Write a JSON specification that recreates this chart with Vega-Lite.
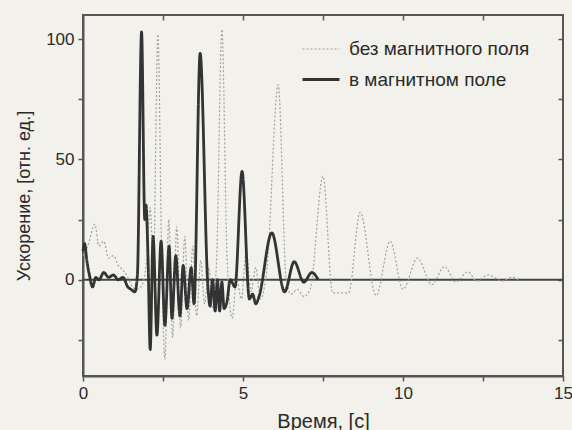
{
  "$schema": "https://vega.github.io/schema/vega-lite/v6.json",
  "width": 480,
  "height": 361,
  "autosize": {"type": "none"},
  "padding": {"left": 83, "top": 15, "right": 9, "bottom": 54},
  "background": "#f2f1ec",
  "config": {
    "font": "Liberation Sans",
    "view": {"stroke": "#555", "strokeWidth": 2},
    "axis": {"grid": false, "domainColor": "#555", "domainWidth": 2, "tickColor": "#555", "tickWidth": 1.5, "labelColor": "#2a2a2a", "titleColor": "#2a2a2a", "labelFontSize": 17, "titleFontSize": 18, "titleFontWeight": "normal"}
  },
  "datasets": {
    "curves": [
      {"s": "без магнитного поля", "t": 0, "a": 10},
      {"s": "без магнитного поля", "t": 0.15, "a": 14},
      {"s": "без магнитного поля", "t": 0.37, "a": 23},
      {"s": "без магнитного поля", "t": 0.5, "a": 14},
      {"s": "без магнитного поля", "t": 0.65, "a": 16},
      {"s": "без магнитного поля", "t": 0.8, "a": 9},
      {"s": "без магнитного поля", "t": 0.95, "a": 10},
      {"s": "без магнитного поля", "t": 1.1, "a": 6},
      {"s": "без магнитного поля", "t": 1.25, "a": 4},
      {"s": "без магнитного поля", "t": 1.4, "a": 1},
      {"s": "без магнитного поля", "t": 1.55, "a": -3},
      {"s": "без магнитного поля", "t": 1.7, "a": -4},
      {"s": "без магнитного поля", "t": 1.85, "a": -2},
      {"s": "без магнитного поля", "t": 2.0, "a": 10},
      {"s": "без магнитного поля", "t": 2.1, "a": 30},
      {"s": "без магнитного поля", "t": 2.2, "a": 5},
      {"s": "без магнитного поля", "t": 2.34, "a": 102},
      {"s": "без магнитного поля", "t": 2.47, "a": 0},
      {"s": "без магнитного поля", "t": 2.56, "a": -33},
      {"s": "без магнитного поля", "t": 2.68, "a": 25},
      {"s": "без магнитного поля", "t": 2.8, "a": -24},
      {"s": "без магнитного поля", "t": 2.93, "a": 22},
      {"s": "без магнитного поля", "t": 3.05, "a": -20},
      {"s": "без магнитного поля", "t": 3.18, "a": 18},
      {"s": "без магнитного поля", "t": 3.3, "a": -17},
      {"s": "без магнитного поля", "t": 3.43, "a": 14},
      {"s": "без магнитного поля", "t": 3.55, "a": -15},
      {"s": "без магнитного поля", "t": 3.68, "a": 8},
      {"s": "без магнитного поля", "t": 3.8, "a": -10},
      {"s": "без магнитного поля", "t": 3.93, "a": 5},
      {"s": "без магнитного поля", "t": 4.05, "a": -12},
      {"s": "без магнитного поля", "t": 4.18, "a": 10},
      {"s": "без магнитного поля", "t": 4.34, "a": 104},
      {"s": "без магнитного поля", "t": 4.5, "a": 10},
      {"s": "без магнитного поля", "t": 4.66, "a": -16},
      {"s": "без магнитного поля", "t": 4.8, "a": 0},
      {"s": "без магнитного поля", "t": 4.95, "a": -8},
      {"s": "без магнитного поля", "t": 5.1, "a": 12},
      {"s": "без магнитного поля", "t": 5.25, "a": -5},
      {"s": "без магнитного поля", "t": 5.4, "a": 5},
      {"s": "без магнитного поля", "t": 5.55, "a": -8},
      {"s": "без магнитного поля", "t": 5.75, "a": 5},
      {"s": "без магнитного поля", "t": 6.1, "a": 81},
      {"s": "без магнитного поля", "t": 6.35, "a": 0},
      {"s": "без магнитного поля", "t": 6.5, "a": -6},
      {"s": "без магнитного поля", "t": 6.7, "a": -4},
      {"s": "без магнитного поля", "t": 6.9, "a": -7},
      {"s": "без магнитного поля", "t": 7.1, "a": -4},
      {"s": "без магнитного поля", "t": 7.5, "a": 43},
      {"s": "без магнитного поля", "t": 7.8, "a": -5.5},
      {"s": "без магнитного поля", "t": 8.1, "a": -5.5},
      {"s": "без магнитного поля", "t": 8.3, "a": -5.5},
      {"s": "без магнитного поля", "t": 8.66, "a": 28},
      {"s": "без магнитного поля", "t": 9.16, "a": -6.6},
      {"s": "без магнитного поля", "t": 9.6, "a": 16},
      {"s": "без магнитного поля", "t": 10.0, "a": -4},
      {"s": "без магнитного поля", "t": 10.45, "a": 9},
      {"s": "без магнитного поля", "t": 10.9, "a": -2},
      {"s": "без магнитного поля", "t": 11.3, "a": 5.5},
      {"s": "без магнитного поля", "t": 11.65, "a": -1},
      {"s": "без магнитного поля", "t": 12.03, "a": 3.3},
      {"s": "без магнитного поля", "t": 12.3, "a": -0.5},
      {"s": "без магнитного поля", "t": 12.66, "a": 2},
      {"s": "без магнитного поля", "t": 13.1, "a": -0.5},
      {"s": "без магнитного поля", "t": 13.4, "a": 1},
      {"s": "без магнитного поля", "t": 13.6, "a": 0},
      {"s": "в магнитном поле", "t": 0, "a": 12},
      {"s": "в магнитном поле", "t": 0.05, "a": 15},
      {"s": "в магнитном поле", "t": 0.12, "a": 8},
      {"s": "в магнитном поле", "t": 0.2, "a": 2},
      {"s": "в магнитном поле", "t": 0.3, "a": -3},
      {"s": "в магнитном поле", "t": 0.4, "a": 1},
      {"s": "в магнитном поле", "t": 0.5, "a": 0},
      {"s": "в магнитном поле", "t": 0.65, "a": 3},
      {"s": "в магнитном поле", "t": 0.8, "a": 1},
      {"s": "в магнитном поле", "t": 0.95, "a": 2},
      {"s": "в магнитном поле", "t": 1.1, "a": 0},
      {"s": "в магнитном поле", "t": 1.25, "a": 1},
      {"s": "в магнитном поле", "t": 1.4, "a": -3},
      {"s": "в магнитном поле", "t": 1.5, "a": -4},
      {"s": "в магнитном поле", "t": 1.62, "a": -5},
      {"s": "в магнитном поле", "t": 1.7, "a": 2},
      {"s": "в магнитном поле", "t": 1.83, "a": 103},
      {"s": "в магнитном поле", "t": 1.93, "a": 25},
      {"s": "в магнитном поле", "t": 1.97, "a": 31},
      {"s": "в магнитном поле", "t": 2.03, "a": 10},
      {"s": "в магнитном поле", "t": 2.1, "a": -29},
      {"s": "в магнитном поле", "t": 2.19, "a": 18},
      {"s": "в магнитном поле", "t": 2.31, "a": -23},
      {"s": "в магнитном поле", "t": 2.44, "a": 16},
      {"s": "в магнитном поле", "t": 2.56, "a": -19},
      {"s": "в магнитном поле", "t": 2.69, "a": 14},
      {"s": "в магнитном поле", "t": 2.78, "a": -16},
      {"s": "в магнитном поле", "t": 2.9, "a": 10},
      {"s": "в магнитном поле", "t": 3.03, "a": -15},
      {"s": "в магнитном поле", "t": 3.13, "a": 6},
      {"s": "в магнитном поле", "t": 3.25, "a": -12},
      {"s": "в магнитном поле", "t": 3.38, "a": 5},
      {"s": "в магнитном поле", "t": 3.47, "a": -10},
      {"s": "в магнитном поле", "t": 3.66, "a": 94},
      {"s": "в магнитном поле", "t": 3.9, "a": -2},
      {"s": "в магнитном поле", "t": 3.97, "a": -11},
      {"s": "в магнитном поле", "t": 4.05, "a": 0},
      {"s": "в магнитном поле", "t": 4.13, "a": -13},
      {"s": "в магнитном поле", "t": 4.2, "a": 0},
      {"s": "в магнитном поле", "t": 4.27, "a": -13},
      {"s": "в магнитном поле", "t": 4.34, "a": -1},
      {"s": "в магнитном поле", "t": 4.41, "a": -12},
      {"s": "в магнитном поле", "t": 4.5, "a": -9},
      {"s": "в магнитном поле", "t": 4.6, "a": 0},
      {"s": "в магнитном поле", "t": 4.75, "a": -3},
      {"s": "в магнитном поле", "t": 4.97, "a": 45},
      {"s": "в магнитном поле", "t": 5.2, "a": -8},
      {"s": "в магнитном поле", "t": 5.3, "a": -6},
      {"s": "в магнитном поле", "t": 5.4, "a": -10},
      {"s": "в магнитном поле", "t": 5.5, "a": -7},
      {"s": "в магнитном поле", "t": 5.9, "a": 19.5},
      {"s": "в магнитном поле", "t": 6.3, "a": -5},
      {"s": "в магнитном поле", "t": 6.6, "a": 7.5},
      {"s": "в магнитном поле", "t": 6.9, "a": -1},
      {"s": "в магнитном поле", "t": 7.15, "a": 3},
      {"s": "в магнитном поле", "t": 7.35, "a": 0}
    ],
    "zero": [{"v": 0}]
  },
  "layer": [
    {
      "data": {"name": "zero"},
      "mark": {"type": "rule", "color": "#444", "strokeWidth": 2},
      "encoding": {"y": {"field": "v", "type": "quantitative", "axis": null}}
    },
    {
      "data": {"name": "curves"},
      "mark": {"type": "line", "interpolate": "monotone"},
      "encoding": {
        "x": {"field": "t", "type": "quantitative", "scale": {"domain": [0, 15], "nice": false},
          "axis": {"orient": "bottom", "title": "Время, [с]", "titleFontSize": 20, "values": [0, 2.5, 5, 7.5, 10, 12.5, 15], "labelExpr": "datum.value % 5 === 0 ? datum.label : ''", "tickSize": 5, "labelPadding": 4, "titlePadding": 10, "labelFlush": false}},
        "y": {"field": "a", "type": "quantitative", "scale": {"domain": [-40, 110], "nice": false, "zero": false},
          "axis": {"orient": "left", "title": "Ускорение, [отн. ед.]", "values": [-25, 0, 25, 50, 75, 100], "labelExpr": "datum.value % 50 === 0 ? datum.label : ''", "tickSize": 5, "labelPadding": 4, "titlePadding": 12}},
        "color": {"field": "s", "type": "nominal", "sort": ["без магнитного поля", "в магнитном поле"],
          "scale": {"domain": ["без магнитного поля", "в магнитном поле"], "range": ["#a0a0a0", "#333333"]},
          "legend": {"orient": "none", "legendX": 218, "legendY": 14.5, "title": null, "symbolType": "stroke", "symbolSize": 1369, "labelFontSize": 19, "labelLimit": 400, "labelColor": "#2a2a2a", "labelOffset": 8, "rowPadding": -13}},
        "strokeDash": {"field": "s", "type": "nominal",
          "scale": {"domain": ["без магнитного поля", "в магнитном поле"], "range": [[2, 2], [1, 0]]}},
        "strokeWidth": {"field": "s", "type": "nominal",
          "scale": {"domain": ["без магнитного поля", "в магнитном поле"], "range": [1.2, 2.8]}}
      }
    },
    {
      "data": {"name": "zero"},
      "mark": {"type": "point", "opacity": 0},
      "encoding": {
        "x": {"field": "v", "type": "quantitative", "axis": {"orient": "top", "title": null, "labels": false, "values": [2.5, 5, 7.5, 10, 12.5], "tickSize": -5, "domain": false}},
        "y": {"field": "v", "type": "quantitative", "axis": {"orient": "right", "title": null, "labels": false, "values": [-25, 0, 25, 50, 75, 100], "tickSize": -5, "domain": false}}
      }
    }
  ],
  "resolve": {"axis": {"x": "independent", "y": "independent"}}
}
